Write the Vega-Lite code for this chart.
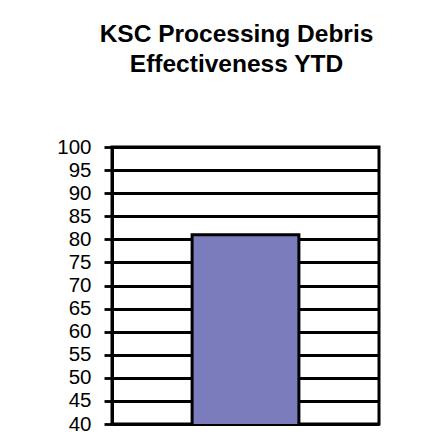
{
  "$schema": "https://vega.github.io/schema/vega-lite/v6.json",
  "width": 267,
  "height": 277,
  "autosize": {"type": "none"},
  "padding": {"left": 112, "top": 147, "right": 43, "bottom": 18},
  "background": "white",
  "title": {
    "text": ["KSC Processing Debris", "Effectiveness YTD"],
    "font": "Liberation Sans",
    "fontSize": 24.5,
    "fontWeight": "bold",
    "color": "black",
    "lineHeight": 30,
    "offset": 60,
    "dx": -9,
    "anchor": "middle"
  },
  "data": {"values": [{"category": "YTD", "effectiveness": 81}]},
  "mark": {"type": "bar", "fill": "#7a7cbb", "stroke": "black", "strokeWidth": 3, "clip": true},
  "encoding": {
    "x": {
      "field": "category",
      "type": "nominal",
      "axis": null,
      "scale": {"paddingInner": 0.6, "paddingOuter": 0.3}
    },
    "y": {
      "field": "effectiveness",
      "type": "quantitative",
      "scale": {"domain": [40, 100], "zero": false, "nice": false},
      "axis": {
        "values": [40, 45, 50, 55, 60, 65, 70, 75, 80, 85, 90, 95, 100],
        "title": null,
        "grid": true,
        "gridColor": "black",
        "gridWidth": 2.8,
        "gridOpacity": 1,
        "domainColor": "black",
        "domainWidth": 3,
        "tickColor": "black",
        "tickWidth": 2.8,
        "tickSize": 8,
        "labelFont": "Liberation Sans",
        "labelFontSize": 20.5,
        "labelColor": "black",
        "labelPadding": 13,
        "labelOverlap": false
      }
    }
  },
  "config": {"view": {"stroke": "black", "strokeWidth": 3}}
}
